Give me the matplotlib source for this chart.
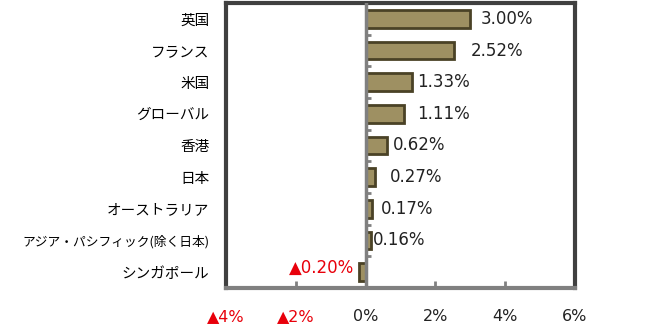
import numpy as np
import matplotlib.pyplot as plt
from matplotlib.ticker import FuncFormatter

plt.rcParams['font.family'] = ['Noto Sans CJK JP', 'DejaVu Sans']

# Data
categories = ['英国', 'フランス', '米国', 'グローバル', '香港', '日本',
              'オーストラリア', 'アジア・パシフィック(除く日本)', 'シンガポール']
values = [3.00, 2.52, 1.33, 1.11, 0.62, 0.27, 0.17, 0.16, -0.20]
x_ticks = [-4, -2, 0, 2, 4, 6]

# Style
bar_color = '#9e9062'
edge_color = '#4a4226'
frame_color = '#404040'
axis_gray = '#808080'
neg_red = '#e8000b'
num_font = ['DejaVu Sans', 'Noto Sans CJK JP']
label_pad = [10, 17, 5, 13, 6, 15, 9, 2, 4]  # px offsets of value labels


def fmt_pct(v, pos=None):
    if v < 0:
        return '▲{:g}%'.format(-v)
    return '{:g}%'.format(v)


fig = plt.figure(figsize=(6.47, 3.27), dpi=100)
ax = fig.add_axes([226 / 647, 1 - 288 / 327, 349 / 647, 285 / 327])

y = np.arange(len(categories))
ax.barh(y, values, height=0.55, color=bar_color, edgecolor=edge_color,
        linewidth=2, zorder=3)

ax.set_xlim(-4, 6)
ax.set_ylim(len(categories) - 0.5, -0.5)

# Zero axis with category tick marks
ax.axvline(0, color=axis_gray, linewidth=2.5, zorder=4)
bounds = np.arange(len(categories) + 1) - 0.5
ax.hlines(bounds[1:-1], 0, 0.15, color=axis_gray, linewidth=2, zorder=2)

# Value labels
for i, v in enumerate(values):
    if v < 0:
        ax.annotate('▲{:.2f}%'.format(-v), (v, i), xytext=(-label_pad[i], 4),
                    textcoords='offset pixels', ha='right', va='center',
                    fontsize=12, color=neg_red, family=num_font)
    else:
        ax.annotate('{:.2f}%'.format(v), (v, i), xytext=(label_pad[i], 0),
                    textcoords='offset pixels', ha='left', va='center',
                    fontsize=12, color='#222222', family=num_font)

ax.set_yticks(y)
ax.set_yticklabels(categories, fontsize=10.5)
for lab in ax.get_yticklabels():
    if len(lab.get_text()) > 10:
        lab.set_fontsize(9.2)
ax.tick_params(axis='y', length=0, pad=12)

ax.set_xticks(x_ticks)
ax.xaxis.set_major_formatter(FuncFormatter(fmt_pct))
ax.tick_params(axis='x', direction='in', length=5, width=2, color=axis_gray,
               pad=15, labelsize=11.5)
for lab, t in zip(ax.get_xticklabels(), x_ticks):
    lab.set_color(neg_red if t < 0 else '#222222')
    lab.set_family(num_font)

for side in ['left', 'top', 'right']:
    ax.spines[side].set_color(frame_color)
    ax.spines[side].set_linewidth(3)
ax.spines['bottom'].set_color(axis_gray)
ax.spines['bottom'].set_linewidth(3)

fig.savefig('out.png', dpi=100)
